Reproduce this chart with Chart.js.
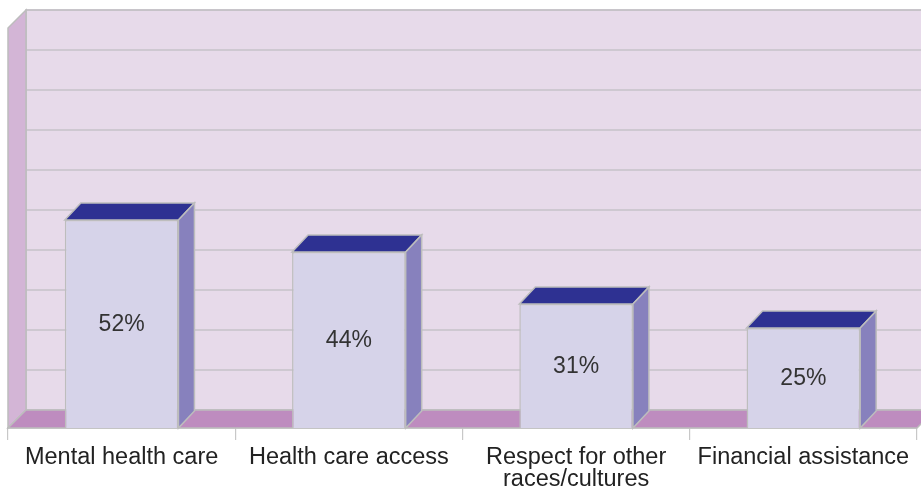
<!DOCTYPE html>
<html>
<head>
<meta charset="utf-8">
<script src="https://cdn.jsdelivr.net/npm/chart.js@4/dist/chart.umd.min.js"></script>
<style>
  html, body { margin: 0; padding: 0; background: #fff; }
  #wrap { width: 921px; height: 491px; }
</style>
</head>
<body>
<div id="wrap"><canvas id="issues"></canvas></div>
<script>
var categories = ["Mental health care", "Health care access", ["Respect for other", "races/cultures"], "Financial assistance"];
var shares = [52, 44, 31, 25];
var yTicks = [0, 10, 20, 30, 40, 50, 60, 70, 80, 90, 100];

var WALL_DX = 18, WALL_DY = 18;
var BAR_DX = 16, BAR_DY = 17;
var EDGE = "#BDBDBD";
var FONT = "'Liberation Sans', Arial, sans-serif";

function poly(ctx, pts, fill, stroke) {
    ctx.beginPath();
    ctx.moveTo(pts[0][0], pts[0][1]);
    for (var i = 1; i < pts.length; i++) ctx.lineTo(pts[i][0], pts[i][1]);
    ctx.closePath();
    ctx.fillStyle = fill;
    ctx.fill();
    ctx.lineWidth = 1.5;
    ctx.strokeStyle = stroke;
    ctx.stroke();
}

var room3d = {
    id: "room3d",
    beforeDatasetsDraw: function (chart) {
        var ctx = chart.ctx, a = chart.chartArea, y = chart.scales.y;
        var L = a.left, R = a.right, T = a.top, B = a.bottom;
        ctx.save();
        // back wall
        poly(ctx, [[L + WALL_DX, T - WALL_DY], [R + WALL_DX, T - WALL_DY], [R + WALL_DX, B - WALL_DY], [L + WALL_DX, B - WALL_DY]], "#E7DAEA", EDGE);
        // grid lines on the back wall
        ctx.strokeStyle = "#C6C2C8";
        ctx.lineWidth = 1.3;
        yTicks.forEach(function (v) {
            var py = y.getPixelForValue(v) - WALL_DY;
            ctx.beginPath();
            ctx.moveTo(L + WALL_DX, py);
            ctx.lineTo(R + WALL_DX, py);
            ctx.stroke();
        });
        // side wall
        poly(ctx, [[L, T], [L + WALL_DX, T - WALL_DY], [L + WALL_DX, B - WALL_DY], [L, B]], "#D3B5D6", EDGE);
        // floor
        poly(ctx, [[L, B], [L + WALL_DX, B - WALL_DY], [R + WALL_DX, B - WALL_DY], [R, B]], "#BE8CBF", EDGE);
        ctx.restore();
    },
    afterDatasetsDraw: function (chart) {
        var ctx = chart.ctx;
        var meta = chart.getDatasetMeta(0);
        ctx.save();
        meta.data.forEach(function (bar, i) {
            var p = bar.getProps(["x", "y", "base", "width"], true);
            var l = p.x - p.width / 2, r = p.x + p.width / 2;
            // top face
            poly(ctx, [[l, p.y], [l + BAR_DX, p.y - BAR_DY], [r + BAR_DX, p.y - BAR_DY], [r, p.y]], "#2E3192", EDGE);
            // side face
            poly(ctx, [[r, p.y], [r + BAR_DX, p.y - BAR_DY], [r + BAR_DX, p.base - BAR_DY], [r, p.base]], "#8781BD", EDGE);
            // value label
            ctx.fillStyle = "#333333";
            ctx.font = "23px " + FONT;
            ctx.textAlign = "center";
            ctx.textBaseline = "middle";
            ctx.fillText(shares[i] + "%", p.x, (p.y + p.base) / 2 + 1);
        });
        ctx.restore();
    }
};

new Chart(document.getElementById("issues"), {
    type: "bar",
    data: {
        labels: categories,
        datasets: [{
            data: shares,
            backgroundColor: "#D6D3E9",
            borderColor: EDGE,
            borderWidth: 1.5,
            categoryPercentage: 1.0,
            barPercentage: 0.5
        }]
    },
    options: {
        responsive: true,
        maintainAspectRatio: false,
        animation: false,
        layout: { padding: { top: 28, left: 8, right: 4, bottom: 0 } },
        plugins: {
            legend: { display: false },
            tooltip: { enabled: false }
        },
        scales: {
            y: {
                display: false,
                min: 0,
                max: 100,
                ticks: { stepSize: 10 }
            },
            x: {
                afterFit: function (s) { s.height = 63; },
                border: { display: true, color: EDGE, width: 1.5 },
                grid: {
                    drawOnChartArea: false,
                    drawTicks: true,
                    tickLength: 12,
                    color: "#C8C8C8",
                    lineWidth: 1.2
                },
                ticks: {
                    color: "#222222",
                    padding: 6,
                    maxRotation: 0,
                    autoSkip: false,
                    font: { family: FONT, size: 23.5, lineHeight: 0.95 }
                }
            }
        }
    },
    plugins: [room3d]
});
</script>
</body>
</html>
